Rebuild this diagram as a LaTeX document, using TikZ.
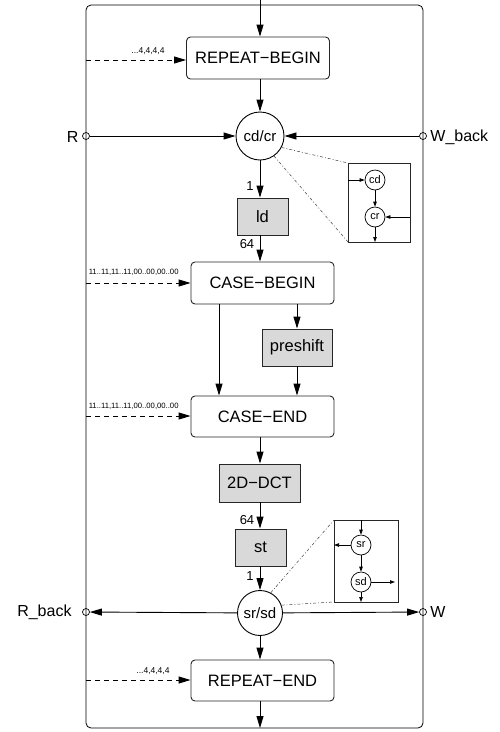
\documentclass[tikz,border=0pt]{standalone}
\usepackage{fontspec}
\setmainfont{Liberation Sans}
\usetikzlibrary{arrows.meta,calc}
\begin{document}
\begin{tikzpicture}[x=1pt,y=-1pt,line width=0.9pt,
 arr/.style={-{Triangle[length=12pt,width=7pt]}},
 sarr/.style={-{Triangle[length=5pt,width=3.5pt]},line width=0.7pt},
 darr/.style={arr,dash pattern=on 5pt off 4pt},
 blk/.style={draw=black!85,rounded corners=4pt,minimum width=143pt,minimum height=42pt,inner sep=0pt,font=\fontsize{16.5}{18}\selectfont},
 gbox/.style={draw=black!85,fill=black!15,inner sep=0pt,font=\fontsize{16.5}{18}\selectfont},
 bigc/.style={draw,circle,inner sep=0pt,font=\fontsize{15}{17}\selectfont},
 smc/.style={draw,circle,minimum size=20pt,inner sep=0pt,font=\fontsize{11}{12}\selectfont,line width=0.7pt},
 port/.style={draw,circle,minimum size=7pt,inner sep=0pt,line width=0.7pt},
 chainline/.style={dash dot,line width=0.5pt,black!75},
 plab/.style={inner sep=0pt,font=\fontsize{16}{18}\selectfont},
 slab/.style={inner sep=0pt,font=\fontsize{7.7}{9}\selectfont},
 sslab/.style={inner sep=0pt,font=\fontsize{8.5}{9}\selectfont},
 nlab/.style={inner sep=0pt,font=\fontsize{13}{14}\selectfont},
 inset/.style={draw=black!85,line width=0.8pt}]
\useasboundingbox (0,0) rectangle (500,732);
% frame
\draw[rounded corners=5pt,line width=0.8pt] (86,5) rectangle (423,728);
\coordinate (top) at (260,0);
\coordinate (bot) at (260,728);
% nodes
\node[blk] (rb) at (258,58) {REPEAT−BEGIN};
\node[bigc,minimum size=48pt] (cdcr) at (260,136) {cd/cr};
\node[gbox,minimum width=51pt,minimum height=37pt] (ld) at (262.5,216.5) {ld};
\node[blk] (cb) at (262.5,283) {CASE−BEGIN};
\node[gbox,minimum width=70pt,minimum height=37pt] (pre) at (297,347.5) {preshift};
\node[blk,minimum height=41pt] (ce) at (262.5,416.5) {CASE−END};
\node[gbox,minimum width=81pt,minimum height=38pt] (dct) at (259.5,483) {2D−DCT};
\node[gbox,minimum width=51pt,minimum height=37pt] (st) at (260.5,547.5) {st};
\node[bigc,minimum size=45pt] (srsd) at (260,613) {sr/sd};
\node[blk,minimum height=41pt] (re) at (262.5,680.5) {REPEAT−END};
% ports
\node[port] (pR) at (86,136) {};
\node[port] (pWb) at (423,136) {};
\node[port] (pRb) at (86,612) {};
\node[port] (pW) at (423,612) {};
\node[plab,anchor=east] (tR) at (79,137) {R};
\node[plab,anchor=west] (tWb) at (430,137) {W\_back};
\node[plab,anchor=east] (tRb) at (72,612) {R\_back};
\node[plab,anchor=west] (tW) at (430,612) {W};
% main vertical flow
\draw[arr] (top) -- (top |- rb.north);
\draw[arr] (rb.south -| top) -- (cdcr);
\draw[arr] (cdcr) -- (ld.north -| top);
\draw[arr] (ld.south -| top) -- (cb.north -| top);
\draw[arr] ([xshift=-43.5pt]cb.south) -- ([xshift=-43.5pt]ce.north);
\draw[arr] (cb.south -| pre) -- (pre.north);
\draw[arr] (pre.south) -- (ce.north -| pre);
\draw[arr] (ce.south -| top) -- (dct.north -| top);
\draw[arr] (dct.south -| top) -- (st.north -| top);
\draw[arr] (st.south -| top) -- (srsd);
\draw[arr] (srsd) -- (re.north -| top);
\draw[arr] (re.south -| top) -- (bot);
% horizontal
\draw[arr] (pR) -- (cdcr);
\draw[arr] (pWb) -- (cdcr);
\draw[arr] (srsd) -- (pRb);
\draw[arr] (srsd) -- (pW);
% numbers
\node[nlab] (n1) at (250,186.5) {1};
\node[nlab] (n2) at (247,244) {64};
\node[nlab] (n3) at (247,520.5) {64};
\node[nlab] (n4) at (250,576) {1};
% dashed inputs
\coordinate (d1) at (86,60);
\coordinate (d2) at (86,283);
\coordinate (d3) at (86,416);
\coordinate (d4) at (86,680);
\draw[darr] (d1) -- (d1 -| rb.west);
\draw[darr] (d2) -- (d2 -| cb.west);
\draw[darr] (d3) -- (d3 -| ce.west);
\draw[darr] (d4) -- (d4 -| re.west);
\node[sslab,anchor=south east] (l1) at (165,55) {...4,4,4,4};
\node[slab,anchor=south east] (l2) at (179,276) {11..11,11..11,00..00,00..00};
\node[slab,anchor=south east] (l3) at (179,410) {11..11,11..11,00..00,00..00};
\node[sslab,anchor=south east] (l4) at (170,675) {...4,4,4,4};
% top inset
\draw[inset] (348,163) rectangle (410,242);
\coordinate (ia) at (348,180);
\coordinate (ib) at (410,217);
\coordinate (ic) at (375,242);
\node[smc] (icd) at (375,180) {cd};
\node[smc] (icr) at (375,217) {cr};
\draw[sarr] (ia) -- (icd);
\draw[sarr] (icd) -- (icr);
\draw[sarr] (ib) -- (icr);
\draw[sarr] (icr) -- (ic);
\draw[chainline] (cdcr.-28) -- (348,163);
\draw[chainline] (cdcr.-55) -- (348,242);
% bottom inset
\draw[inset] (334,520) rectangle (398,602);
\coordinate (ja) at (361,520);
\coordinate (jb) at (334,545);
\coordinate (jc) at (395,582);
\coordinate (jd) at (361,602);
\node[smc] (isr) at (361,545) {sr};
\node[smc] (isd) at (361,582) {sd};
\draw[sarr] (ja) -- (isr);
\draw[sarr] (isr) -- (jb);
\draw[sarr] (isr) -- (isd);
\draw[sarr] (isd) -- (jc);
\draw[sarr] (isd) -- (jd);
\draw[chainline] (srsd.62) -- (334,520);
\draw[chainline] (srsd.20) -- (334,602);
\end{tikzpicture}
\end{document}
